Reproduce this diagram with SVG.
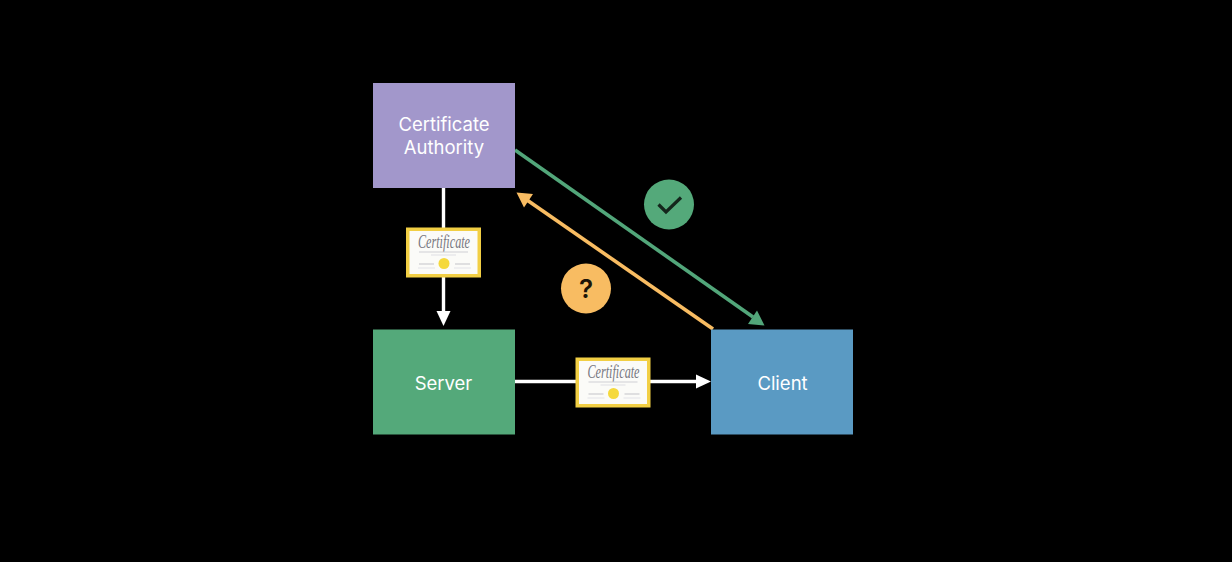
<svg xmlns="http://www.w3.org/2000/svg" width="1232" height="562" viewBox="0 0 1232 562">
<style>
.lbl{font-family:Inter,"Liberation Sans",sans-serif;font-size:18.500px;fill:#fff;text-anchor:middle}
.ct{font-family:"Liberation Serif",serif;font-style:italic;font-size:18px;fill:#77777f;text-anchor:middle}
.w{stroke:#fff;stroke-width:3.400;fill:none}
</style>
<defs>
<g id="cert">
<rect x="0" y="0" width="75" height="50" fill="#f2cf44"/>
<rect x="3.500" y="3.500" width="68" height="43" fill="#fbfbf8"/>
<text class="ct" x="38" y="20" textLength="52" lengthAdjust="spacingAndGlyphs">Certificate</text>
<rect x="13" y="24" width="49" height="1" fill="#cfcfd3"/>
<rect x="25" y="27" width="25" height="1" fill="#e0e0e4"/>
<circle cx="38" cy="36" r="5.500" fill="#f5d93c"/>
<rect x="13" y="36" width="15" height="1" fill="#c4c4c8"/>
<rect x="49" y="36" width="15" height="1" fill="#c4c4c8"/>
<rect x="12" y="40" width="17" height="1" fill="#e4e4e8"/>
<rect x="48" y="40" width="17" height="1" fill="#e4e4e8"/>
</g>
</defs>
<rect width="1232" height="562" fill="#000"/>
<g id="connectors">
<path class="w" d="M443.500 188V314"/>
<polygon points="436.500,311 450.500,311 443.500,326" fill="#fff"/>
<path class="w" d="M515 381.500H698"/>
<polygon points="696,374.500 711,381.500 696,388.500" fill="#fff"/>
<path d="M515 150L753 317" stroke="#52a67a" stroke-width="3.600" fill="none"/>
<polygon points="764.500,325.500 748,324 757,310.500" fill="#52a67a"/>
<path d="M713 329L527 200" stroke="#f8bc62" stroke-width="3.600" fill="none"/>
<polygon points="516.500,192.500 533,194 524,207.500" fill="#f8bc62"/>
</g>
<g id="authority">
<rect x="373" y="83" width="142" height="105" fill="#a297cb"/>
<text class="lbl" x="444" y="131">Certificate</text>
<text class="lbl" x="444" y="154">Authority</text>
</g>
<g id="server">
<rect x="373" y="329.500" width="142" height="105" fill="#54a97a"/>
<text class="lbl" x="443.500" y="390">Server</text>
</g>
<g id="client">
<rect x="711" y="329.500" width="142" height="105" fill="#5a9ac3"/>
<text class="lbl" x="782.500" y="390">Client</text>
</g>
<g id="cert-issued"><use href="#cert" x="406" y="227.500"/></g>
<g id="cert-presented"><use href="#cert" x="575.500" y="357.500"/></g>
<g id="check">
<circle cx="669" cy="204.500" r="25" fill="#54a97a"/>
<path d="M658.500 204.500L666 212L681 197.500" fill="none" stroke="#14261c" stroke-width="3.200"/>
</g>
<g id="question">
<circle cx="586" cy="288.500" r="25" fill="#f8bc62"/>
<text x="586" y="298" font-family="Inter,'Liberation Sans',sans-serif" font-weight="600" font-size="26" fill="#1c1408" text-anchor="middle">?</text>
</g>
</svg>
